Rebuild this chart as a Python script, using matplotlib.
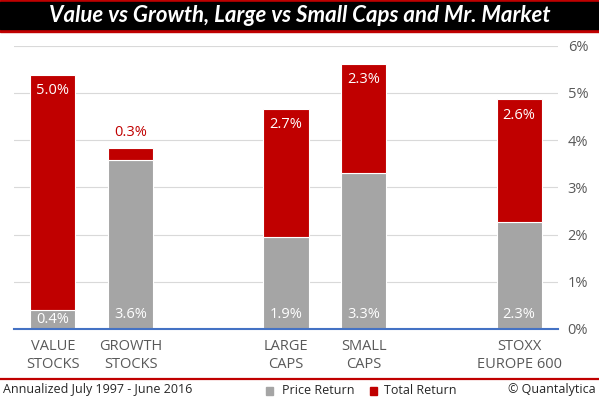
import matplotlib
matplotlib.use('Agg')
import matplotlib.pyplot as plt
from matplotlib.patches import Rectangle

# ---- data ----
categories = ["VALUE\nSTOCKS", "GROWTH\nSTOCKS", "LARGE\nCAPS", "SMALL\nCAPS", "STOXX\nEUROPE 600"]
price_return = [0.40, 3.57, 1.94, 3.31, 2.26]
total_extra = [4.98, 0.26, 2.72, 2.31, 2.61]
y_ticks = [0, 1, 2, 3, 4, 5, 6]
y_tick_labels = ["0%", "1%", "2%", "3%", "4%", "5%", "6%"]
title = "Value vs Growth, Large vs Small Caps and Mr. Market"
footnote = "Annualized July 1997 - June 2016"
credit = "\u00a9 Quantalytica"
legend_labels = ["Price Return", "Total Return"]

# ---- style ----
RED = "#C00000"
GRAY = "#A5A5A5"
TXT = "#595959"
FONT = "Open Sans"
plt.rcParams['font.family'] = [FONT, 'DejaVu Sans']

W, H = 599, 399
fig = plt.figure(figsize=(W / 100, H / 100), dpi=100)
fig.patch.set_facecolor("white")

def fx(px):
    return px / W

def fy(py_from_top):
    return (H - py_from_top) / H

# axes placement
ax = fig.add_axes([fx(14), fy(329), fx(558 - 14), fy(45.7) - fy(329)])
slots = [0, 1, 3, 4, 6]
ax.set_xlim(-0.5, 6.5)
ax.set_ylim(0, 6)

bars1 = ax.bar(slots, price_return, width=0.58, color=GRAY, edgecolor="white", linewidth=0.8, zorder=2)
bars2 = ax.bar(slots, total_extra, bottom=price_return, width=0.58, color=RED, edgecolor="white", linewidth=0.8, zorder=2)

ax.set_yticks(y_ticks)
ax.set_yticklabels(y_tick_labels)
ax.yaxis.tick_right()
ax.tick_params(axis='y', length=0, pad=7, labelsize=10.5, labelcolor=TXT)
ax.set_xticks(slots)
ax.set_xticklabels(categories, linespacing=1.3)
ax.tick_params(axis='x', length=0, pad=7, labelsize=10.5, labelcolor=TXT)
for s in ax.spines.values():
    s.set_visible(False)
ax.grid(axis='y', color="#D9D9D9", linewidth=0.8, zorder=0)
ax.set_axisbelow(True)
ax.axhline(0, color="#4472C4", linewidth=1.5, zorder=3, clip_on=False)

px_per_unit = (329 - 45.7) / 6.0
off = 16 / px_per_unit
for x, p, e in zip(slots, price_return, total_extra):
    yb = min(p / 2, 14 / px_per_unit)
    ax.text(x, yb, f"{p:.1f}%", ha="center", va="center", color="white", fontsize=10.5, zorder=4)
    top = p + e
    if e > 2 * off:
        ax.text(x, top - off, f"{e:.1f}%", ha="center", va="center", color="white", fontsize=10.5, zorder=4)
    else:
        ax.text(x, top + off, f"{e:.1f}%", ha="center", va="center", color=RED, fontsize=10.5, zorder=4)

# title bar
fig.patches.append(Rectangle((0, fy(32)), 1, 32 / H, transform=fig.transFigure, color=RED, zorder=0))
fig.patches.append(Rectangle((0, fy(29)), 1, 27 / H, transform=fig.transFigure, color="black", zorder=1))
fig.text(0.5, fy(16), title, ha="center", va="center", color="white", fontsize=16,
         fontweight="bold", fontstyle="italic", family=["Lato", "DejaVu Sans"])

# bottom line
fig.add_artist(plt.Line2D([0, 1], [fy(379), fy(379)], transform=fig.transFigure, color=RED, linewidth=1.6))

ty = fy(390)
fig.text(fx(3), ty, footnote, ha="left", va="center", color="#262626", fontsize=9)
fig.text(fx(596), ty, credit, ha="right", va="center", color="#262626", fontsize=9)

fig.patches.append(Rectangle((fx(266), fy(395)), fx(7), 8 / H, transform=fig.transFigure, color=GRAY))
fig.text(fx(282), ty, legend_labels[0], ha="left", va="center", color="#262626", fontsize=9)
fig.patches.append(Rectangle((fx(370), fy(395)), fx(7), 8 / H, transform=fig.transFigure, color=RED))
fig.text(fx(384), ty, legend_labels[1], ha="left", va="center", color="#262626", fontsize=9)

fig.savefig("out.png", dpi=100)
